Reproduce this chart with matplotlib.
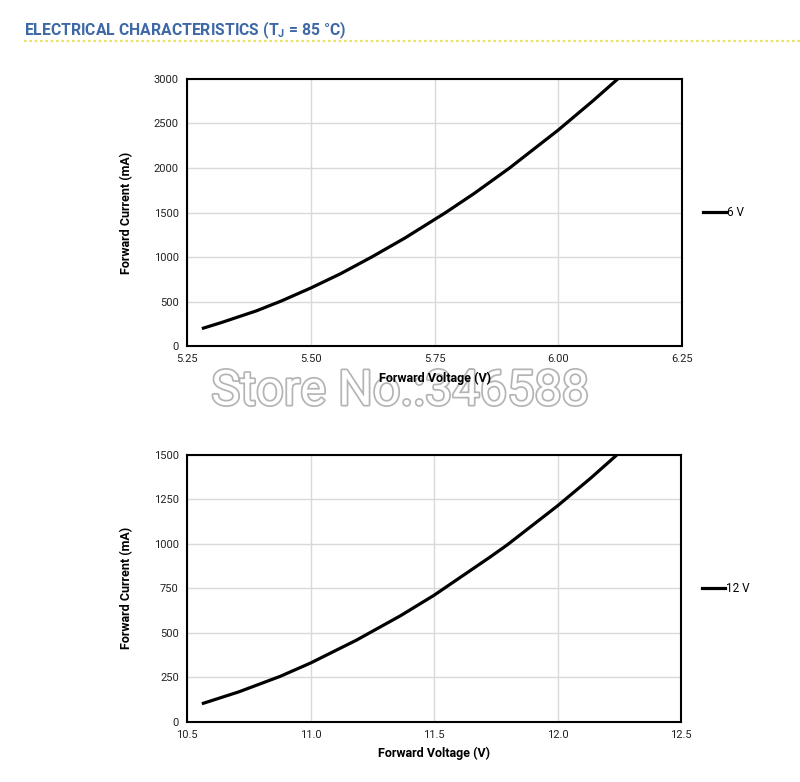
import matplotlib.pyplot as plt
import matplotlib.patheffects as pe
from matplotlib.lines import Line2D

plt.rcParams['font.family'] = ['Roboto', 'DejaVu Sans']

# 6 V curve
v6 = [5.28, 5.32, 5.39, 5.44, 5.50, 5.56, 5.623, 5.69, 5.7715, 5.83, 5.9015, 6.00, 6.07, 6.12]
i6 = [196, 265, 395, 505, 652, 812, 1000, 1213, 1496, 1714, 2000, 2427, 2755, 3000]

# 12 V curve
v12 = [10.56, 10.71, 10.877, 11.00, 11.185, 11.363, 11.50, 11.727, 11.795, 12.00, 12.132, 12.24]
i12 = [101, 168, 255, 330, 458, 595, 711, 926, 993, 1214, 1367, 1500]

x6_ticks = [5.25, 5.50, 5.75, 6.00, 6.25]
y6_ticks = [0, 500, 1000, 1500, 2000, 2500, 3000]
x12_ticks = [10.5, 11.0, 11.5, 12.0, 12.5]
y12_ticks = [0, 250, 500, 750, 1000, 1250, 1500]

fig = plt.figure(figsize=(8, 7.82), dpi=100)

# header
fig.text(0.03, 0.961, 'ELECTRICAL CHARACTERISTICS (T$_\\mathregular{J}$ = 85 °C)',
         color='#3f69a6', fontsize=11.3, fontweight='bold', va='center', ha='left')
fig.add_artist(Line2D([0.03, 1.0], [0.947, 0.947], color='#ece26a', lw=1.6,
                      linestyle=(0, (1.2, 1.2)), transform=fig.transFigure))


def panel(rect, x, y, xt, yt, xfmt, label):
    ax = fig.add_axes(rect)
    ax.plot(x, y, color='black', lw=2.3, solid_capstyle='butt', solid_joinstyle='round')
    ax.set_xlim(xt[0], xt[-1])
    ax.set_ylim(yt[0], yt[-1])
    ax.set_xticks(xt)
    ax.set_xticklabels([xfmt.format(v) for v in xt])
    ax.set_yticks(yt)
    ax.grid(True, color='#d9d9d9', lw=1)
    ax.set_axisbelow(True)
    ax.tick_params(length=0, labelsize=8, pad=6, colors='#222222')
    for s in ax.spines.values():
        s.set_linewidth(1.5)
        s.set_color('black')
    ax.set_xlabel('Forward Voltage (V)', fontsize=9, fontweight='bold', labelpad=5)
    ax.set_ylabel('Forward Current (mA)', fontsize=9, fontweight='bold', labelpad=15)
    ax.legend([Line2D([0], [0], color='black', lw=2.3)], [label], frameon=False,
              loc='center left', bbox_to_anchor=(1.02, 0.5), fontsize=8.5,
              handlelength=2.0, handletextpad=0.1)
    return ax


panel([0.2338, 0.5575, 0.6188, 0.3415], v6, i6, x6_ticks, y6_ticks, '{:.2f}', '6 V')
panel([0.2338, 0.0771, 0.6175, 0.3411], v12, i12, x12_ticks, y12_ticks, '{:.1f}', '12 V')

# watermark, behind the axes labels
fig.text(0.5, 0.499, 'Store No.:346588', fontsize=35, ha='center', va='center',
         color='white', path_effects=[pe.withStroke(linewidth=2.5, foreground='#b4b4b4')],
         zorder=-1)

fig.savefig('out.png', dpi=100, facecolor='white')
